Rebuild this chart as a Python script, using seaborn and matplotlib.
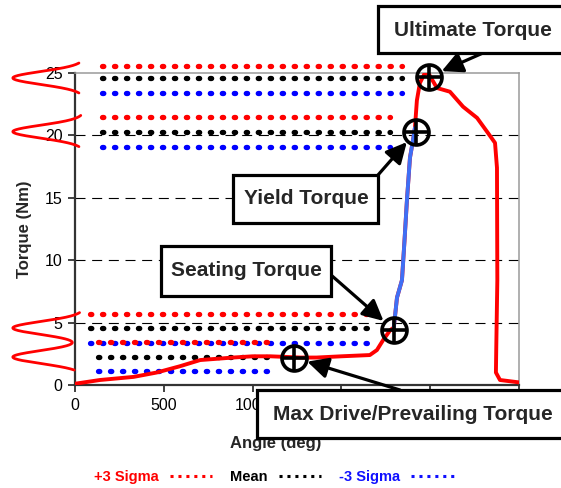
import numpy as np
import pandas as pd
import seaborn as sns
import matplotlib.pyplot as plt
from matplotlib.patches import Rectangle
from matplotlib.lines import Line2D

# torque vs angle trace (red)
angle = [0, 140, 330, 460, 590, 705, 890, 1000, 1100, 1270, 1360, 1500, 1660, 1700, 1735, 1775,
         1795, 1813, 1841, 1855, 1869, 1886, 1903, 1914,
         1925, 1942, 1970, 1993, 2038, 2111, 2185, 2264, 2325, 2365, 2376, 2378, 2372, 2370, 2393, 2505]
torque = [0.1, 0.4, 0.65, 1.0, 1.5, 2.0, 2.2, 2.3, 2.3, 2.2, 2.2, 2.3, 2.4, 2.8, 3.6, 4.4,
          4.6, 7.0, 8.4, 11.5, 14.8, 18.2, 19.6, 20.6,
          22.8, 24.2, 25.0, 24.9, 23.8, 23.5, 22.3, 21.4, 20.2, 19.4, 17.4, 8.4, 3.0, 1.0, 0.4, 0.2]
# the yield (blue) part of the trace: from index 16 to 23
blue_from, blue_to = 16, 23

# torque events
events = ["Ultimate Torque", "Yield Torque", "Seating Torque", "Max Drive/Prevailing Torque"]
event_angle = [1993, 1920, 1796, 1233]
event_torque = [24.7, 20.3, 4.4, 2.2]

# +3 sigma / mean / -3 sigma bands
band_hi = [25.6, 21.45, 5.69, 3.45]
band_mean = [24.6, 20.3, 4.57, 2.24]
band_lo = [23.4, 19.1, 3.37, 1.12]
band_start = [152, 152, 84, 130]
band_end = [1841, 1774, 1644, 1081]

# bell curves drawn left of the y axis (groups of means)
bell_groups = [[24.6], [20.3], [4.57, 2.24]]
bell_span = [(23.4, 25.8), (19.1, 21.6), (1.2, 5.8)]

W, H = 561, 488


def fx(x):
    return x / W


def fy(y):
    return 1 - y / H


sns.set_theme(style="white")
plt.rcParams['font.family'] = ['Liberation Sans', 'DejaVu Sans']

fig = plt.figure(figsize=(W / 100, H / 100), dpi=100)
ax = fig.add_axes([fx(75), fy(385), 444 / W, 312 / H])

df = pd.DataFrame({'angle': angle, 'torque': torque})
sns.lineplot(data=df, x='angle', y='torque', sort=False, color='#ff0000', lw=2.8, ax=ax, zorder=3)
sns.lineplot(data=df.iloc[blue_from:blue_to + 1], x='angle', y='torque', sort=False,
             color='#3f6ff5', lw=2.8, ax=ax, zorder=4)

# dotted sigma rows
dots = (0, (0.25, 2.02))
for i in range(len(band_mean)):
    for val, col in [(band_hi[i], '#ff0000'), (band_mean[i], 'black'), (band_lo[i], '#0000ff')]:
        ax.plot([band_start[i], band_end[i]], [val, val], color=col, lw=3.8, ls=dots,
                dash_capstyle='round', clip_on=False, zorder=2)

# bell shapes
for mus, (lo, hi) in zip(bell_groups, bell_span):
    yy = np.linspace(lo, hi, 200)
    g = sum(np.exp(-0.5 * ((yy - m) / 0.52) ** 2) for m in mus)
    ax.plot(50 - 400 * g, yy, color='#ff0000', lw=2, clip_on=False, zorder=3)

# event markers
ax.plot(event_angle, event_torque, ls='none', marker='o', ms=18, mfc='none', mec='black',
        mew=2.6, clip_on=False, zorder=6)
ax.plot(event_angle, event_torque, ls='none', marker='+', ms=18, mec='black',
        mew=2.6, clip_on=False, zorder=6)

ax.set_xlim(0, 2500)
ax.set_ylim(0, 25)
ax.set_xticks(range(0, 2501, 500))
ax.set_yticks(range(0, 26, 5))
for yv in ax.get_yticks()[1:-1]:
    ax.axhline(yv, color='black', lw=0.8, ls=(0, (9, 6)), zorder=1)

ax.tick_params(direction='out', length=5, width=1.3, color='#333333', labelcolor='black',
               labelsize=11.5, bottom=True, left=True, pad=4)
for s in ['top', 'right']:
    ax.spines[s].set_color('#9a9a9a')
    ax.spines[s].set_linewidth(1.1)
for s in ['left', 'bottom']:
    ax.spines[s].set_color('#333333')
    ax.spines[s].set_linewidth(1.6)

ax.set_xlabel('Angle (deg)', fontsize=12, fontweight='bold')
ax.xaxis.set_label_coords(0.453, -0.163)
ax.set_ylabel('Torque (Nm)', fontsize=12, fontweight='bold')
ax.yaxis.set_label_coords(-0.097, 0.5)

# callout boxes: (left, top, right, bottom), text centre, arrow start (figure pixels)
boxes = [(378, 6, 575, 53), (233, 175, 378, 223), (161, 246, 331, 296), (257, 390, 575, 438)]
text_at = [(473, 30), (306, 199), (246, 271), (413, 414)]
arrow_from = [(483, 53), (378, 175), (331, 275), (400, 390)]

for name, a, t, (x0, y0, x1, y1), (tx, ty), (sx, sy) in zip(events, event_angle, event_torque,
                                                             boxes, text_at, arrow_from):
    fig.add_artist(Rectangle((fx(x0), fy(y1)), (x1 - x0) / W, (y1 - y0) / H,
                             transform=fig.transFigure, fc='white', ec='black', lw=2.3, zorder=5))
    fig.text(fx(tx), fy(ty), name, ha='center', va='center', fontsize=15, fontweight='bold', zorder=6)
    ax.annotate('', xy=(a, t), xycoords='data', xytext=(fx(sx), fy(sy)), textcoords='figure fraction',
                arrowprops=dict(arrowstyle='-|>,head_length=0.9,head_width=0.45', color='black', lw=2.3,
                                shrinkA=0, shrinkB=10, mutation_scale=14),
                annotation_clip=False, zorder=7)

# legend under the chart
leg_labels = ['+3 Sigma', 'Mean', '-3 Sigma']
leg_colors = ['#ff0000', 'black', '#1010ff']
handles = [Line2D([], [], color=c, lw=2.2, ls=(0, (1, 1.6)), dash_capstyle='butt') for c in leg_colors]
leg = ax.legend(handles, leg_labels, loc='center', bbox_to_anchor=(fx(274), fy(477)),
                bbox_transform=fig.transFigure, ncol=3, markerfirst=False, frameon=False,
                prop={'weight': 'bold', 'size': 10.5}, handlelength=2.9, handletextpad=0.75,
                columnspacing=1.25)
for txt, c in zip(leg.get_texts(), leg_colors):
    txt.set_color(c)

fig.savefig('out.png', dpi=100)
